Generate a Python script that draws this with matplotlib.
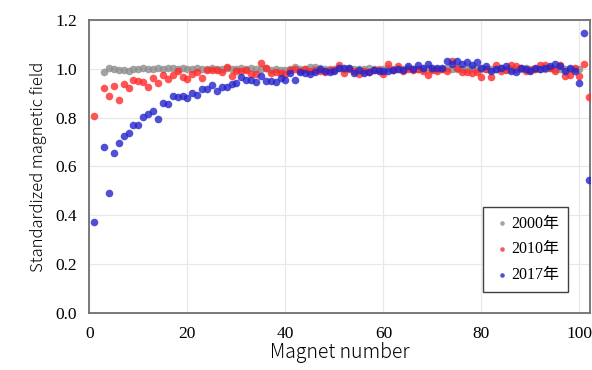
import numpy as np
import matplotlib.pyplot as plt

# magnet numbers (no data at magnet 2)
magnets = [1] + list(range(3, 103))

y2000 = [0.989, 1.005, 0.999, 0.995, 0.997, 0.992, 1.000, 0.998, 1.005, 1.000,
         1.000, 1.003, 0.999, 1.002, 1.004, 1.000, 1.003, 1.001, 0.999, 1.002,
         1.000, 0.999, 1.003, 1.000, 0.998, 1.002, 1.001, 0.999, 1.003, 1.000,
         1.002, 0.998, 1.000, 1.003, 0.997, 1.001, 0.996, 0.996, 0.999, 1.008,
         1.001, 1.000, 1.008, 1.007, 1.002, 1.000, 1.001, 1.000, 1.003, 0.999,
         1.002, 1.000, 1.001, 0.999, 1.002, 1.000, 1.001, 1.000, 1.002, 0.999,
         1.001, 1.000, 1.003, 1.000, 1.001, 0.999, 1.002, 1.000, 1.001, 1.000,
         1.002, 0.999, 1.000, 1.001, 1.000, 1.002, 0.999, 1.000, 1.001, 1.000,
         0.999, 1.002, 1.000, 1.001, 0.999, 1.000, 1.002, 1.000, 1.001, 0.999,
         1.000, 1.002, 1.000, 0.999, 1.001, 1.000, 0.999, 1.000]
mag2000 = list(range(3, 101))

y2010 = [0.808, 0.923, 0.888, 0.931, 0.874, 0.938, 0.923, 0.953, 0.952, 0.946,
         0.926, 0.964, 0.941, 0.976, 0.959, 0.976, 0.993, 0.967, 0.960, 0.979,
         0.985, 0.962, 0.994, 0.997, 0.997, 0.989, 1.008, 0.970, 0.993, 0.992,
         0.996, 0.980, 0.978, 1.023, 1.005, 0.982, 0.989, 0.982, 0.980, 0.996,
         0.999, 0.990, 1.000, 0.992, 0.995, 0.991, 0.988, 0.996, 0.994, 1.016,
         0.982, 0.998, 0.992, 0.980, 0.990, 0.986, 0.994, 0.997, 0.980, 1.020,
         0.995, 1.010, 0.993, 0.998, 0.996, 1.000, 0.992, 0.975, 0.996, 0.993,
         0.998, 0.993, 1.033, 1.003, 0.989, 0.985, 0.982, 0.989, 0.965, 0.999,
         0.965, 1.016, 0.993, 0.994, 1.016, 1.010, 1.003, 0.993, 0.996, 0.999,
         1.016, 1.016, 1.003, 0.993, 1.016, 0.969, 0.975, 1.003, 0.969, 1.020,
         0.886]

y2017 = [0.372, 0.679, 0.492, 0.655, 0.697, 0.724, 0.739, 0.769, 0.768, 0.802,
         0.813, 0.826, 0.794, 0.858, 0.855, 0.890, 0.884, 0.889, 0.881, 0.899,
         0.892, 0.918, 0.918, 0.933, 0.908, 0.926, 0.927, 0.939, 0.940, 0.968,
         0.955, 0.953, 0.946, 0.971, 0.952, 0.950, 0.944, 0.963, 0.955, 0.981,
         0.955, 0.985, 0.982, 0.980, 0.985, 0.999, 0.990, 0.985, 0.990, 1.003,
         1.003, 1.005, 0.982, 0.996, 0.982, 0.988, 0.996, 0.993, 0.993, 0.993,
         0.996, 0.999, 0.996, 1.010, 0.999, 1.016, 1.003, 1.020, 1.005, 1.003,
         1.005, 1.030, 1.020, 1.033, 1.020, 1.027, 1.014, 1.026, 1.003, 1.010,
         0.993, 0.999, 1.003, 1.010, 0.993, 0.989, 1.003, 0.999, 0.993, 1.003,
         0.999, 1.003, 1.010, 1.019, 1.010, 0.992, 1.003, 0.993, 0.941, 1.146,
         0.545]

labels = ['2000年', '2010年', '2017年']

serif = ['Liberation Serif', 'Noto Sans CJK JP']

fig = plt.figure(figsize=(5.92, 3.70), dpi=100)
ax = fig.add_axes([0.151, 0.154, 0.846, 0.792])

ax.scatter(mag2000, y2000, s=30, color='#8c8c8c', alpha=0.8, lw=0, label=labels[0], zorder=3)
ax.scatter(magnets, y2010, s=30, color='#ff2a2a', alpha=0.8, lw=0, label=labels[1], zorder=4)
ax.scatter(magnets, y2017, s=30, color='#2424cc', alpha=0.8, lw=0, label=labels[2], zorder=5)

ax.set_xlim(0, 102.2)
ax.set_ylim(0, 1.2)
ax.set_xticks(np.arange(0, 101, 20))
ax.set_yticks(np.arange(0, 1.21, 0.2))
ax.set_yticklabels(['%.1f' % v for v in np.arange(0, 1.21, 0.2)])
ax.grid(True, color='#e8e8e8', lw=0.9)
ax.set_axisbelow(True)
ax.tick_params(length=0, pad=9, labelsize=12.5)
for lab in ax.get_xticklabels() + ax.get_yticklabels():
    lab.set_family(serif)
for sp in ax.spines.values():
    sp.set_color('#707070')
    sp.set_linewidth(1.3)

ax.set_xlabel('Magnet number', family='Noto Sans CJK JP', fontweight='light',
              fontsize=14, labelpad=0)
ax.set_ylabel('Standardized magnetic field', family='Noto Sans CJK JP', fontweight='light',
              fontsize=12, labelpad=6)

leg = ax.legend(loc='lower right', bbox_to_anchor=(0.956, 0.073), borderaxespad=0,
                prop={'family': serif, 'size': 11.5},
                fancybox=False, edgecolor='#404040', framealpha=1, handletextpad=0.0,
                markerscale=0.6, labelspacing=0.6, borderpad=0.55, handlelength=1.2)
leg.get_frame().set_linewidth(1.0)

fig.savefig('out.png', dpi=100)
